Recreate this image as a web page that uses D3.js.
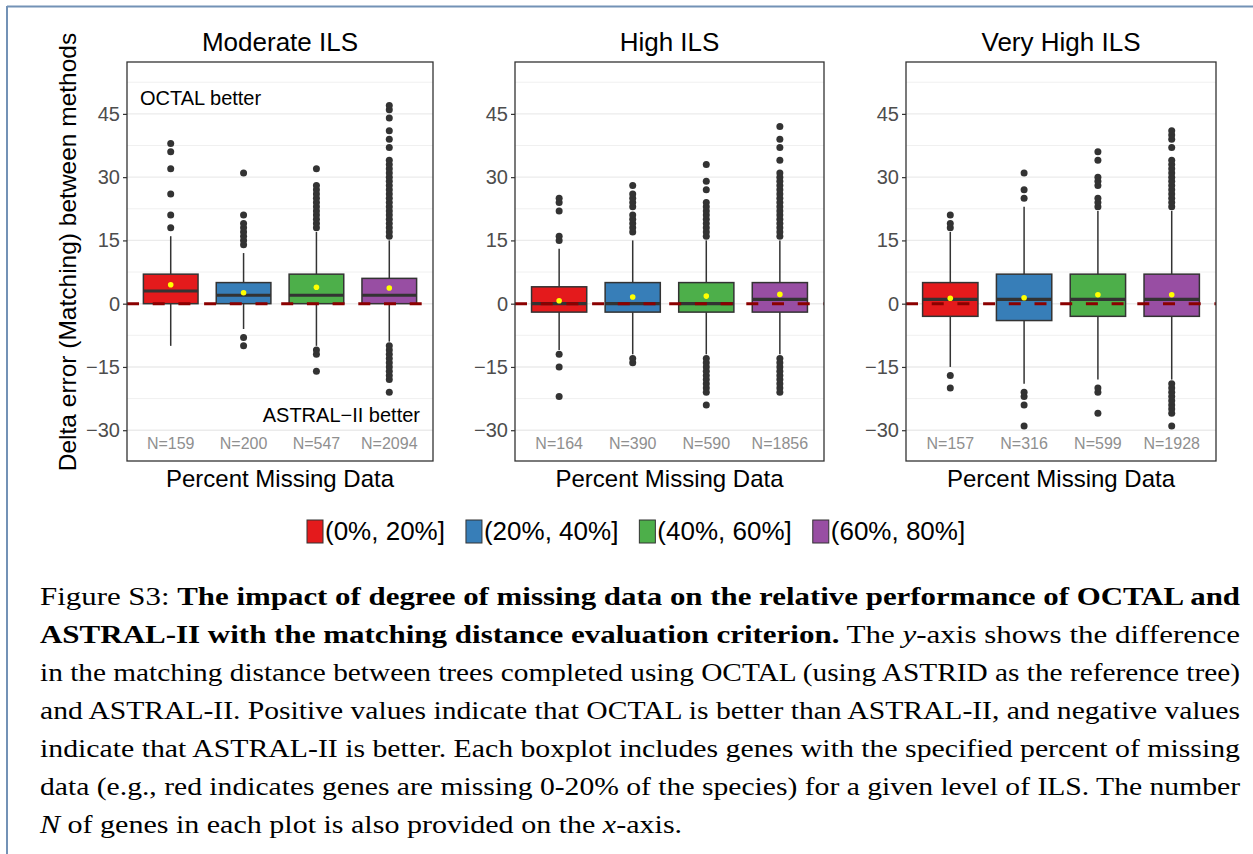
<!DOCTYPE html>
<html><head><meta charset="utf-8">
<script src="https://cdn.jsdelivr.net/npm/d3@7/dist/d3.min.js"></script>
<style>body{margin:0;background:#fff} svg{display:block} .cap{font-family:"Liberation Serif","Times New Roman",Times,"Nimbus Roman","Nimbus Roman No9 L",serif;}</style>
</head><body>
<svg id="chart" width="1253" height="854"></svg>
<script>
// ---------------- data ----------------
const panelTitles = ["Moderate ILS", "High ILS", "Very High ILS"];
const categories = ["(0%, 20%]", "(20%, 40%]", "(40%, 60%]", "(60%, 80%]"];
const colors = ["#e41a1c", "#377eb8", "#4daf4a", "#984ea3"];
const yTicks = [-30, -15, 0, 15, 30, 45];
const yMinor = [-22.5, -7.5, 7.5, 22.5, 37.5, 52.5];

const nModerate = [159, 200, 547, 2094];
const nHigh = [164, 390, 590, 1856];
const nVeryHigh = [157, 316, 599, 1928];

// [lower whisker, Q1, median, Q3, upper whisker]
const statsModerate = [[-10, 0, 3, 7, 16], [-6, 0, 2, 5, 12], [-10, 0, 2, 7, 17], [-9, 0, 2, 6, 15]];
const statsHigh = [[-11, -2, 0, 4, 13], [-12, -2, 0, 5, 15], [-12, -2, 0, 5, 15], [-12, -2, 1, 5, 15]];
const statsVeryHigh = [[-15, -3, 1, 5, 17], [-19, -4, 1, 7, 23], [-18, -3, 1, 7, 22], [-18, -3, 1, 7, 22]];

const meansModerate = [4.5, 2.6, 3.9, 3.7];
const meansHigh = [0.7, 1.6, 1.8, 2.2];
const meansVeryHigh = [1.3, 1.4, 2.1, 2.1];

const outliersModerate = [
  [18, 21, 26, 32, 36, 38],
  [-10, -8, 14, 15, 16, 17, 18, 19, 21, 31],
  [-16, -12, -11, 18, 19, 20, 21, 22, 23, 24, 25, 26, 27, 28, 32],
  [-21, -18, -17, -16, -15, -14, -13, -12, -11, -10, 16, 17, 18, 19, 20, 21, 22, 23, 24, 25, 26, 27, 28, 29, 30, 31, 32, 33, 34, 37, 39, 41, 44, 46, 47]
];
const outliersHigh = [
  [-22, -15, -12, 15, 16, 22, 24, 25],
  [-14, -13, 17, 18, 19, 20, 21, 23, 24, 25, 26, 28],
  [-24, -21, -20, -19, -18, -17, -16, -15, -14, -13, 16, 17, 18, 19, 20, 21, 22, 23, 24, 27, 29, 33],
  [-21, -20, -19, -18, -17, -16, -15, -14, -13, 16, 17, 18, 19, 20, 21, 22, 23, 24, 25, 26, 27, 28, 29, 30, 31, 34, 37, 39, 42]
];
const outliersVeryHigh = [
  [-20, -17, 18, 19, 21],
  [-29, -24, -22, -21, 25, 27, 31],
  [-26, -21, -20, 23, 24, 25, 28, 29, 30, 34, 36],
  [-29, -26, -25, -24, -23, -22, -21, -20, -19, 23, 24, 25, 26, 27, 28, 29, 30, 31, 32, 33, 34, 37, 39, 40, 41]
];

const nLabels = [nModerate, nHigh, nVeryHigh];
const stats = [statsModerate, statsHigh, statsVeryHigh];
const means = [meansModerate, meansHigh, meansVeryHigh];
const outliers = [outliersModerate, outliersHigh, outliersVeryHigh];

// ---------------- layout ----------------
const svg = d3.select("#chart");
const FONT = "'Liberation Sans', Arial, Helvetica, sans-serif";
const panelX = [127, 515, 906];
const panelW = [306, 309, 310];
const panelTop = 62, panelBottom = 461;

// page border
svg.append("line").attr("x1", 7).attr("x2", 1253).attr("y1", 6.5).attr("y2", 6.5)
  .attr("stroke", "#7392b6").attr("stroke-width", 2);
svg.append("line").attr("x1", 7).attr("x2", 7).attr("y1", 6).attr("y2", 854)
  .attr("stroke", "#7392b6").attr("stroke-width", 2);

const y = d3.scaleLinear().domain([-37.3, 57.3]).range([panelBottom, panelTop]);
const fmt = d => d < 0 ? "\u2212" + Math.abs(d) : String(d);

panelTitles.forEach((title, p) => {
  const x0 = panelX[p], x1 = panelX[p] + panelW[p];
  const x = d3.scalePoint().domain(categories).range([x0, x1]).padding(0.6);
  const bw = x.step() * 0.75;
  const g = svg.append("g");
  const clipId = "clip" + p;
  svg.append("clipPath").attr("id", clipId).append("rect")
    .attr("x", x0).attr("y", panelTop).attr("width", panelW[p]).attr("height", panelBottom - panelTop);
  const inner = g.append("g").attr("clip-path", `url(#${clipId})`);

  // grid
  inner.selectAll(".minor").data(yMinor).join("line")
    .attr("x1", x0).attr("x2", x1).attr("y1", d => y(d)).attr("y2", d => y(d))
    .attr("stroke", "#ececec").attr("stroke-width", 0.8);
  inner.selectAll(".major").data(yTicks).join("line")
    .attr("x1", x0).attr("x2", x1).attr("y1", d => y(d)).attr("y2", d => y(d))
    .attr("stroke", "#ebebeb").attr("stroke-width", 1.4);

  categories.forEach((c, i) => {
    const [lw, q1, med, q3, uw] = stats[p][i];
    const cx = x(c);
    inner.append("line").attr("x1", cx).attr("x2", cx).attr("y1", y(q3)).attr("y2", y(uw))
      .attr("stroke", "#333").attr("stroke-width", 1.5);
    inner.append("line").attr("x1", cx).attr("x2", cx).attr("y1", y(q1)).attr("y2", y(lw))
      .attr("stroke", "#333").attr("stroke-width", 1.5);
    inner.append("rect").attr("x", cx - bw / 2).attr("width", bw)
      .attr("y", y(q3)).attr("height", y(q1) - y(q3))
      .attr("fill", colors[i]).attr("stroke", "#333").attr("stroke-width", 1.5);
    inner.append("line").attr("x1", cx - bw / 2).attr("x2", cx + bw / 2)
      .attr("y1", y(med)).attr("y2", y(med)).attr("stroke", "#333").attr("stroke-width", 3.2);
    inner.selectAll(null).data(outliers[p][i]).join("circle")
      .attr("cx", cx).attr("cy", d => y(d)).attr("r", 3.5).attr("fill", "#333");
  });

  // reference line at zero
  inner.append("line").attr("x1", x0).attr("x2", x1).attr("y1", y(0)).attr("y2", y(0))
    .attr("stroke", "#8b0000").attr("stroke-width", 3).attr("stroke-dasharray", "12,13.7");

  // means
  inner.selectAll(".mean").data(means[p]).join("circle")
    .attr("cx", (d, i) => x(categories[i])).attr("cy", d => y(d)).attr("r", 2.8).attr("fill", "#ffff00");

  // N labels
  g.selectAll(".nlab").data(nLabels[p]).join("text")
    .attr("x", (d, i) => x(categories[i])).attr("y", 449)
    .attr("text-anchor", "middle").attr("font-family", FONT).attr("font-size", 16)
    .attr("fill", "#8f8f8f").text(d => "N=" + d);

  // border
  g.append("rect").attr("x", x0).attr("y", panelTop).attr("width", panelW[p]).attr("height", panelBottom - panelTop)
    .attr("fill", "none").attr("stroke", "#333").attr("stroke-width", 1.3);

  // y axis
  const ax = g.append("g").attr("transform", `translate(${x0},0)`)
    .call(d3.axisLeft(y).tickValues(yTicks).tickSize(4).tickPadding(3).tickFormat(fmt));
  ax.select(".domain").remove();
  ax.selectAll(".tick line").attr("stroke", "#333").attr("stroke-width", 1.2);
  ax.selectAll(".tick text").attr("fill", "#4d4d4d").attr("font-family", FONT).attr("font-size", 20);

  // titles
  g.append("text").attr("x", (x0 + x1) / 2).attr("y", 51).attr("text-anchor", "middle")
    .attr("font-family", FONT).attr("font-size", 26).attr("fill", "#000").text(title);
  g.append("text").attr("x", (x0 + x1) / 2).attr("y", 487).attr("text-anchor", "middle")
    .attr("font-family", FONT).attr("font-size", 24).attr("fill", "#000").text("Percent Missing Data");

  if (p === 0) {
    g.append("text").attr("x", x0 + 13).attr("y", 105).attr("font-family", FONT).attr("font-size", 20)
      .attr("fill", "#000").text("OCTAL better");
    g.append("text").attr("x", x1 - 13).attr("y", 422).attr("text-anchor", "end").attr("font-family", FONT)
      .attr("font-size", 20).attr("fill", "#000").text("ASTRAL\u2212II better");
  }
});

// y axis title
svg.append("text").attr("transform", `translate(76,252) rotate(-90)`)
  .attr("text-anchor", "middle").attr("font-family", FONT).attr("font-size", 24.5).attr("fill", "#000")
  .text("Delta error (Matching) between methods");

// legend
const leg = svg.append("g").attr("transform", "translate(307,0)");
let lx = 0;
categories.forEach((c, i) => {
  const it = leg.append("g").attr("transform", `translate(${lx},0)`);
  it.append("rect").attr("x", 0).attr("y", 520).attr("width", 16).attr("height", 23)
    .attr("fill", colors[i]).attr("stroke", "#333").attr("stroke-width", 1);
  const t = it.append("text").attr("x", 18).attr("y", 540).attr("font-family", FONT).attr("font-size", 26)
    .attr("fill", "#000").text(c);
  lx += 18 + t.node().getComputedTextLength() + 21;
});

// caption
const capLines = [
  [["Figure S3: ", "normal", "normal"], ["The impact of degree of missing data on the relative performance of OCTAL and", "bold", "normal"]],
  [["ASTRAL-II with the matching distance evaluation criterion.", "bold", "normal"], [" The ", "normal", "normal"], ["y", "normal", "italic"], ["-axis shows the difference", "normal", "normal"]],
  [["in the matching distance between trees completed using OCTAL (using ASTRID as the reference tree)", "normal", "normal"]],
  [["and ASTRAL-II. Positive values indicate that OCTAL is better than ASTRAL-II, and negative values", "normal", "normal"]],
  [["indicate that ASTRAL-II is better. Each boxplot includes genes with the specified percent of missing", "normal", "normal"]],
  [["data (e.g., red indicates genes are missing 0-20% of the species) for a given level of ILS. The number", "normal", "normal"]],
  [["N", "normal", "italic"], [" of genes in each plot is also provided on the ", "normal", "normal"], ["x", "normal", "italic"], ["-axis.", "normal", "normal"]]
];
const capX = 40, capRight = 1240, capY0 = 605, capDy = 38;
let factors = [];
const capTexts = capLines.map((line, k) => {
  const t = svg.append("text").attr("class", "cap").attr("x", capX).attr("y", capY0 + k * capDy)
    .attr("font-size", 25).attr("fill", "#000").style("white-space", "pre");
  line.forEach(([s, w, st]) => t.append("tspan").attr("font-weight", w).attr("font-style", st).text(s));
  const nat = t.node().getComputedTextLength();
  if (k < capLines.length - 1) {
    factors.push((capRight - capX) / nat);
    t.attr("textLength", capRight - capX).attr("lengthAdjust", "spacingAndGlyphs");
  }
  return [t, nat];
});
const avgF = d3.mean(factors);
const [lastT, lastNat] = capTexts[capTexts.length - 1];
lastT.attr("textLength", lastNat * avgF).attr("lengthAdjust", "spacingAndGlyphs");
</script>
</body></html>
